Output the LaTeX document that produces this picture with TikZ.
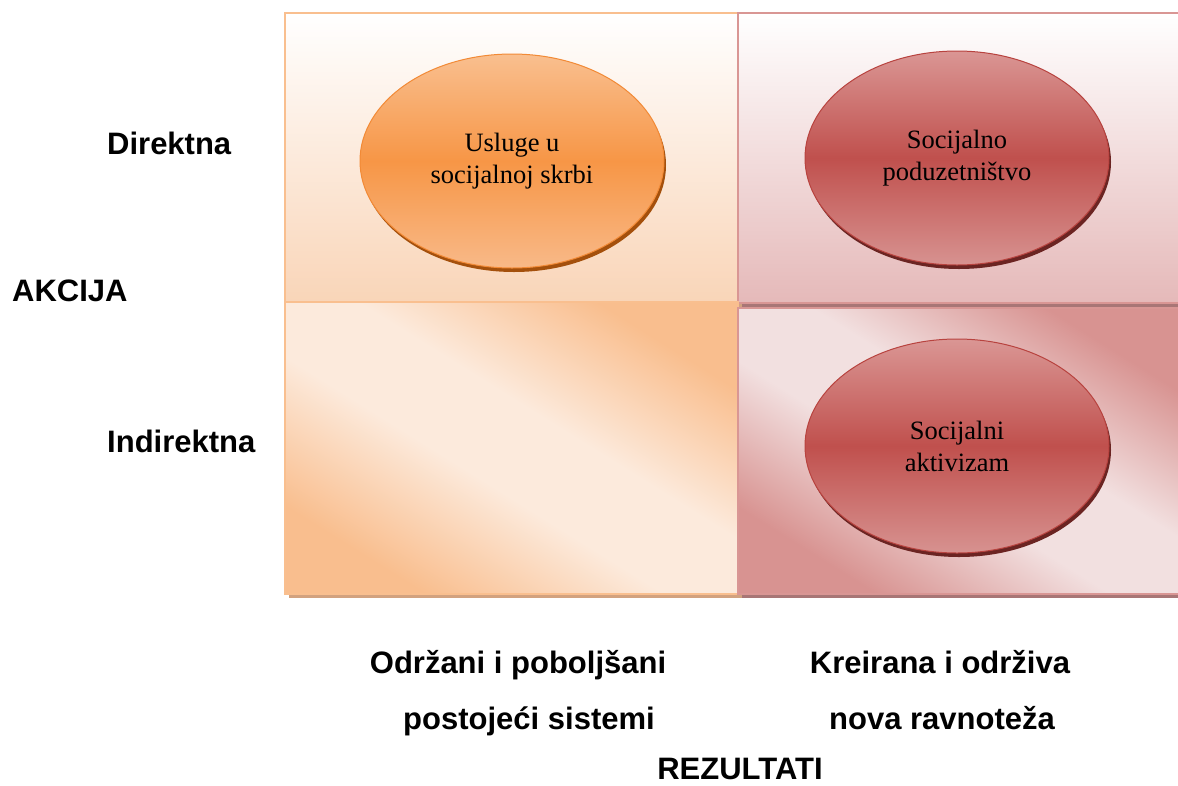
\documentclass[tikz,border=0pt]{standalone}
\usepackage{fontspec}
\setmainfont{Liberation Serif}
\newfontfamily\arialfont{Liberation Sans}
\usetikzlibrary{positioning, shapes.geometric, shadows}

\definecolor{peachlight}{HTML}{F9D5B8}
\definecolor{peachborder}{HTML}{F9BF8F}
\definecolor{peachcorner}{HTML}{F9BE8E}
\definecolor{peachpale}{HTML}{FCEADC}
\definecolor{peachshadow}{HTML}{D2A27F}
\definecolor{pinklight}{HTML}{E5B9B9}
\definecolor{pinkborder}{HTML}{D99694}
\definecolor{pinkcorner}{HTML}{D89391}
\definecolor{pinkpale}{HTML}{F2E0E0}
\definecolor{pinkshadow}{HTML}{A87676}
\definecolor{orangetop}{HTML}{F9BF8F}
\definecolor{orangemid}{HTML}{F79646}
\definecolor{orangebot}{HTML}{F8B988}
\definecolor{orangeline}{HTML}{F28A36}
\definecolor{orangeshadow}{HTML}{A4500C}
\definecolor{redtop}{HTML}{DA9694}
\definecolor{redmid}{HTML}{C0504D}
\definecolor{redbot}{HTML}{D79290}
\definecolor{redline}{HTML}{B8433F}
\definecolor{redshadow}{HTML}{6B2422}

\pgfdeclarehorizontalshading{peachdiag}{100bp}{color(0bp)=(peachcorner); color(26bp)=(peachcorner); color(44bp)=(peachpale); color(56bp)=(peachpale); color(74bp)=(peachcorner); color(100bp)=(peachcorner)}
\pgfdeclarehorizontalshading{pinkdiag}{100bp}{color(0bp)=(pinkcorner); color(26bp)=(pinkcorner); color(44bp)=(pinkpale); color(56bp)=(pinkpale); color(74bp)=(pinkcorner); color(100bp)=(pinkcorner)}

\begin{document}
\begin{tikzpicture}[x=1pt, y=-1pt,
    quad/.style={draw, line width=1.5pt, inner sep=0pt, anchor=north west},
    oval/.style={ellipse, draw, line width=1pt, inner sep=0pt, minimum width=304pt, minimum height=214pt, align=center, font=\fontsize{26.5}{32}\selectfont},
    axis/.style={font=\arialfont\bfseries\fontsize{31}{36}\selectfont, inner sep=0pt}]
    \useasboundingbox (0,0) rectangle (1178,785);

    % quadrants
    \node[quad, draw=peachborder, top color=white, bottom color=peachlight, minimum width=453pt, minimum height=289pt,
          drop shadow={shadow xshift=4pt, shadow yshift=-4pt, fill=peachshadow, opacity=1}] (tl) at (284,12) {};
    \node[quad, draw=pinkborder, top color=white, bottom color=pinklight, minimum width=447pt, minimum height=290pt,
          drop shadow={shadow xshift=4pt, shadow yshift=-5pt, fill=pinkshadow, opacity=1}] (tr) at (737,12) {};
    \node[quad, draw=peachborder, shading=peachdiag, shading angle=58, minimum width=453pt, minimum height=292pt,
          drop shadow={shadow xshift=4pt, shadow yshift=-4pt, fill=peachshadow, opacity=1}] (bl) at (284,301) {};
    \node[quad, draw=pinkborder, shading=pinkdiag, shading angle=58, minimum width=447pt, minimum height=286pt,
          drop shadow={shadow xshift=4pt, shadow yshift=-4pt, fill=pinkshadow, opacity=1}] (br) at (737,307) {};

    % ellipses
    \node[oval, draw=orangeline, top color=orangetop, bottom color=orangebot, middle color=orangemid,
          drop shadow={shadow xshift=2pt, shadow yshift=-4pt, fill=orangeshadow, opacity=1}] (usluge) at (512,161) {Usluge u\\socijalnoj skrbi};
    \node[oval, draw=redline, top color=redtop, bottom color=redbot, middle color=redmid,
          drop shadow={shadow xshift=2pt, shadow yshift=-4pt, fill=redshadow, opacity=1}] (poduzetnistvo) at (957,158) {Socijalno\\poduzetništvo};
    \node[oval, draw=redline, top color=redtop, bottom color=redbot, middle color=redmid,
          drop shadow={shadow xshift=2pt, shadow yshift=-4pt, fill=redshadow, opacity=1}] (aktivizam) at (957,446) {Socijalni\\aktivizam};

    % axis labels
    \node[axis, anchor=base west] (direktna) at (107,154) {Direktna};
    \node[axis, anchor=base west] (akcija) at (12,301) {AKCIJA};
    \node[axis, anchor=base west] (indirektna) at (107,452) {Indirektna};

    \node[axis, anchor=base] (odrzani) at (518,673) {Održani i poboljšani};
    \node[axis, anchor=base] (postojeci) at (529,729) {postojeći sistemi};
    \node[axis, anchor=base] (kreirana) at (940,673) {Kreirana i održiva};
    \node[axis, anchor=base] (nova) at (942,729) {nova ravnoteža};
    \node[axis, anchor=base] (rezultati) at (740,779) {REZULTATI};
\end{tikzpicture}
\end{document}
